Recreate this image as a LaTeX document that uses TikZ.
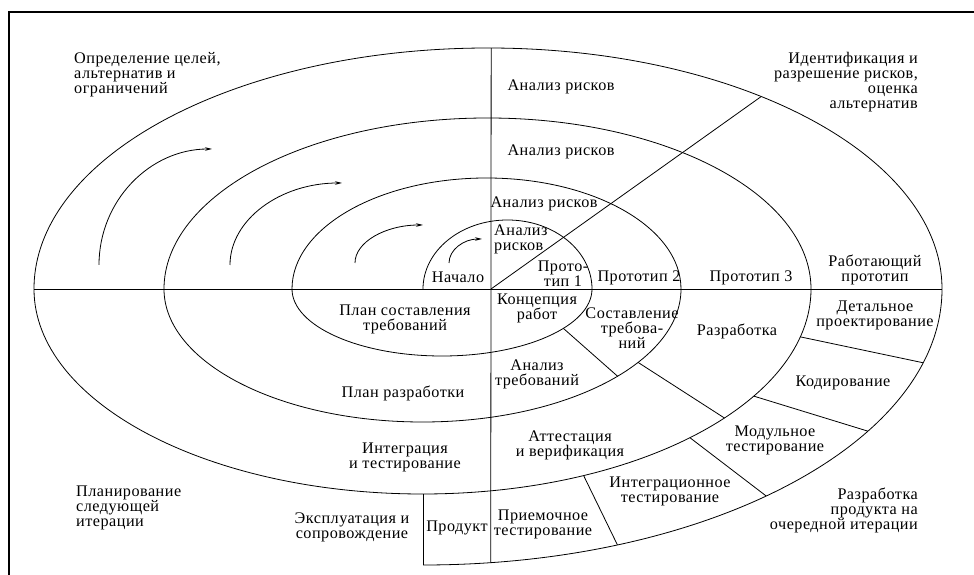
\documentclass[tikz,border=0pt]{standalone}
\usepackage{fontspec}
\setmainfont{Liberation Serif}[LetterSpace=3]
\usetikzlibrary{calc,arrows.meta}

\begin{document}
\begin{tikzpicture}[x=1pt,y=1pt,
   spiral/.style={line width=0.8pt},
   cut/.style={line width=0.8pt},
   turn/.style={line width=0.8pt,-{Stealth[length=7pt,width=3.5pt]}},
   lbl/.style={inner sep=0pt,align=center,font=\fontsize{16.2}{15}\selectfont}]
   \useasboundingbox (0,0) rectangle (974,575);
   % frame
   \draw[line width=1.8pt] (9,0) -- (9,563) -- (974,563);
   % centres of the half ellipses
   \coordinate (O)  at (491,286);
   \coordinate (cA) at (507.5,286) ; \coordinate (ca) at (442,286);
   \coordinate (cB) at (486.5,286) ; \coordinate (cb) at (422.5,286);
   \coordinate (cC) at (487.5,286) ; \coordinate (cc) at (422.5,286);
   \coordinate (cD) at (488,286)   ; \coordinate (cd) at (423,286);
   % spiral
   \coordinate (S) at (423,286);
   \draw[spiral] (S) arc[start angle=180,end angle=0,x radius=84.5,y radius=69]
      arc[start angle=0,end angle=-180,x radius=150,y radius=67]
      arc[start angle=180,end angle=0,x radius=194.5,y radius=111]
      arc[start angle=0,end angle=-180,x radius=258.5,y radius=133]
      arc[start angle=180,end angle=0,x radius=323.5,y radius=171]
      arc[start angle=0,end angle=-180,x radius=388.5,y radius=205]
      arc[start angle=180,end angle=0,x radius=454,y radius=241]
      arc[start angle=0,end angle=-90,x radius=519,y radius=276];
   % axes and diagonal
   \coordinate (L)  at ($(cc)+(180:388.5 and 205)$);
   \coordinate (R)  at ($(cD)+(0:454 and 241)$);
   \coordinate (T)  at ($(cD)+(89.6:454 and 241)$);
   \coordinate (B)  at ($(cd)+(-82.5:519 and 276)$);
   \coordinate (D)  at ($(cD)+(53:454 and 241)$);
   \draw[cut] (L) -- (R);
   \draw[cut] (T) -- (B);
   \draw[cut] (O) -- (D);
   % radial cuts of the lower right quarter
   \coordinate (p1) at ($(ca)+(-36:150 and 67)$);
   \coordinate (q1) at ($(cb)+(-41:258.5 and 133)$);
   \coordinate (p2) at ($(cb)+(-33.5:258.5 and 133)$);
   \coordinate (q2) at ($(cc)+(-39:388.5 and 205)$);
   \coordinate (p3) at ($(cc)+(-46.5:388.5 and 205)$);
   \coordinate (q3) at ($(cd)+(-48.6:519 and 276)$);
   \coordinate (p4) at ($(cc)+(-65.5:388.5 and 205)$);
   \coordinate (q4) at ($(cd)+(-68:519 and 276)$);
   \coordinate (p5) at ($(cc)+(-13.5:388.5 and 205)$);
   \coordinate (q5) at ($(cd)+(-15.5:519 and 276)$);
   \coordinate (p6) at ($(cc)+(-31.5:388.5 and 205)$);
   \coordinate (q6) at ($(cd)+(-31:519 and 276)$);
   \draw[cut] (p1) -- (q1);
   \draw[cut] (p2) -- (q2);
   \draw[cut] (p3) -- (q3);
   \draw[cut] (p4) -- (q4);
   \draw[cut] (p5) -- (q5);
   \draw[cut] (p6) -- (q6);
   % product box
   \coordinate (E)  at ($(cd)+(-90:519 and 276)$);
   \coordinate (Et) at (423,81);
   \draw[cut] (E) -- (Et);
   % turning arrows
   \coordinate (t1) at (99,310);
   \coordinate (t2) at (230,310);
   \coordinate (t3) at (355,312);
   \coordinate (t4) at (449,312);
   \draw[turn] (t1) arc[start angle=180,end angle=90,x radius=113,y radius=116];
   \draw[turn] (t2) arc[start angle=180,end angle=90,x radius=112,y radius=82];
   \draw[turn] (t3) arc[start angle=180,end angle=90,x radius=68,y radius=38];
   \draw[turn] (t4) arc[start angle=180,end angle=90,x radius=33,y radius=24];
   % quarter titles
   \node[lbl,align=left,anchor=west]  (goals) at (74,500)  {Определение целей,\\альтернатив и\\ограничений};
   \node[lbl,align=right,anchor=east] (risks) at (918,492.5) {Идентификация и\\разрешение рисков,\\оценка\\альтернатив};
   \node[lbl,align=left,anchor=west]  (next)  at (76,67)   {Планирование\\следующей\\итерации};
   \node[lbl,align=right,anchor=east] (build) at (918,65)   {Разработка\\продукта на\\очередной итерации};
   % upper right quarter
   \node[lbl] (ra1) at (561,488) {Анализ рисков};
   \node[lbl] (ra2) at (561,423) {Анализ рисков};
   \node[lbl] (ra3) at (544,371) {Анализ рисков};
   \node[lbl,align=left,anchor=west] (ra4) at (494,335.5) {Анализ\\рисков};
   \node[lbl] (pr1) at (563,301.5) {Прото-\\тип 1};
   \node[lbl] (pr2) at (639,297) {Прототип 2};
   \node[lbl] (pr3) at (751,297) {Прототип 3};
   \node[lbl] (pr4) at (875,305.5) {Работающий\\прототип};
   \node[lbl] (start) at (458,298) {Начало};
   % lower right quarter
   \node[lbl] (conc) at (537,266.5) {Концепция\\работ};
   \node[lbl] (req)  at (632,247) {Составление\\требова-\\ний};
   \node[lbl] (dev)  at (737,244) {Разработка};
   \node[lbl] (det)  at (875,259.5) {Детальное\\проектирование};
   \node[lbl] (code) at (843,192) {Кодирование};
   \node[lbl] (reqa) at (537,201) {Анализ\\требований};
   \node[lbl] (val)  at (570,129.5) {Аттестация\\и верификация};
   \node[lbl] (unit) at (775,134.5) {Модульное\\тестирование};
   \node[lbl] (intt) at (670,84) {Интеграционное\\тестирование};
   \node[lbl] (acc)  at (543,50.5) {Приемочное\\тестирование};
   % lower left quarter
   \node[lbl] (plr)  at (405,256) {План составления\\требований};
   \node[lbl] (pld)  at (403,182) {План разработки};
   \node[lbl] (intg) at (405,117.5) {Интеграция\\и тестирование};
   \node[lbl] (ops)  at (352,47.5) {Эксплуатация и\\сопровождение};
   \node[lbl] (prod) at (457,47) {Продукт};
\end{tikzpicture}
\end{document}
